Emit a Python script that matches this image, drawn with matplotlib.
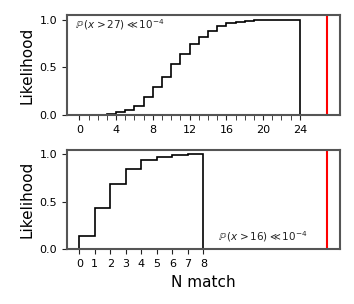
import numpy as np
import matplotlib
matplotlib.use("Agg")
import matplotlib.pyplot as plt

# cumulative likelihood for each N match bin (top panel)
top_edges = np.arange(0, 25)
top_cdf = [0.0, 0.0, 0.0, 0.01, 0.027, 0.056, 0.098, 0.19, 0.29, 0.40,
           0.53, 0.64, 0.74, 0.82, 0.885, 0.935, 0.96, 0.975, 0.985, 0.992,
           0.997, 0.999, 1.0, 1.0]
top_observed = 27
top_label = r'$\mathbb{P}\,(x > 27) \ll 10^{-4}$'

# bottom panel
bot_edges = np.arange(0, 9)
bot_cdf = [0.14, 0.435, 0.69, 0.85, 0.945, 0.975, 0.99, 1.0]
bot_observed = 16
bot_label = r'$\mathbb{P}\,(x > 16) \ll 10^{-4}$'

spine_col = '#555555'

fig = plt.figure(figsize=(3.54, 3.04), dpi=100)
ax1 = fig.add_axes([0.189, 0.622, 0.771, 0.329])
ax2 = fig.add_axes([0.189, 0.180, 0.771, 0.328])

for ax, edges, cdf, obs, lab, pos in [
        (ax1, top_edges, top_cdf, top_observed, top_label, (0.03, 0.9)),
        (ax2, bot_edges, bot_cdf, bot_observed, bot_label, (0.553, 0.13))]:
    ax.stairs(cdf, edges, color='black', linewidth=1.2, baseline=0)
    ax.axvline(obs, color='red', linewidth=1.5)
    ax.set_xlim(-0.05 * obs, obs * 1.05)
    ax.set_ylim(0, 1.05)
    ax.set_yticks([0, 0.5, 1.0])
    ax.set_ylabel('Likelihood', fontsize=11)
    ax.text(pos[0], pos[1], lab, transform=ax.transAxes, fontsize=7.5,
            va='center', ha='left', color='#222222')
    for s in ax.spines.values():
        s.set_color(spine_col)
        s.set_linewidth(1.5)
    ax.tick_params(labelsize=8, color='#222222')

ax1.set_xticks(np.arange(0, 25, 4))
ax1.set_xticks(top_edges, minor=True)
ax1.tick_params(which='minor', length=3.5, color='#222222')
ax2.set_xticks(bot_edges)
ax2.set_xlabel('N match', fontsize=11)

fig.savefig('out.png', dpi=100)
